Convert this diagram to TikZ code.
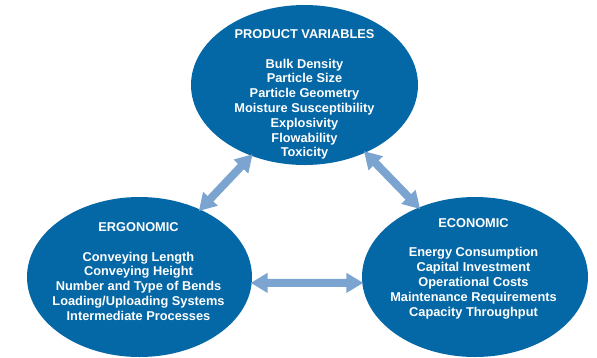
\documentclass[tikz,border=0pt]{standalone}
\usepackage{fontspec}
\setmainfont{Liberation Sans}
\usetikzlibrary{shapes.geometric,arrows.meta}
\definecolor{discblue}{RGB}{4,103,166}
\definecolor{linkblue}{RGB}{124,164,209}
\begin{document}
\begin{tikzpicture}[x=1pt,y=-1pt,
  disc/.style={ellipse,fill=discblue,inner sep=0pt,outer sep=0pt},
  disctext/.style={align=center,text=white,inner sep=0pt,
    font=\bfseries\fontsize{12.8}{14.8}\selectfont},
  link/.style={line width=8pt,draw=linkblue,
    arrows={Triangle[width=19pt,length=17pt]-Triangle[width=19pt,length=17pt]}}]
\useasboundingbox (0,0) rectangle (597,357);

% the three groups of factors
\node[disc,minimum width=227pt,minimum height=160pt] (prod) at (304.5,85) {};
\node[disc,minimum width=225pt,minimum height=160pt] (ergo) at (139.5,277) {};
\node[disc,minimum width=226pt,minimum height=160pt] (econ) at (475,277) {};

\node[disctext] (prodtxt) at (304.5,94.5) {PRODUCT VARIABLES\\[14.8pt]
  Bulk Density\\ Particle Size\\ Particle Geometry\\ Moisture Susceptibility\\
  Explosivity\\ Flowability\\ Toxicity};
\node[disctext] (ergotxt) at (138.5,271.5) {ERGONOMIC\\[14.8pt]
  Conveying Length\\ Conveying Height\\ Number and Type of Bends\\
  Loading/Uploading Systems\\ Intermediate Processes};
\node[disctext] (econtxt) at (473.5,268.5) {ECONOMIC\\[14.8pt]
  Energy Consumption\\ Capital Investment\\ Operational Costs\\
  Maintenance Requirements\\ Capacity Throughput};

% two-way links between the groups
\draw[link,shorten <=-2pt,shorten >=-2pt] (ergo.48) -- (prod.233);
\draw[link,shorten <=-2pt,shorten >=-2pt] (prod.312) -- (econ.129);
\draw[link,shorten <=-1pt,shorten >=-1pt] (ergo.357) -- (econ.183);
\end{tikzpicture}
\end{document}
